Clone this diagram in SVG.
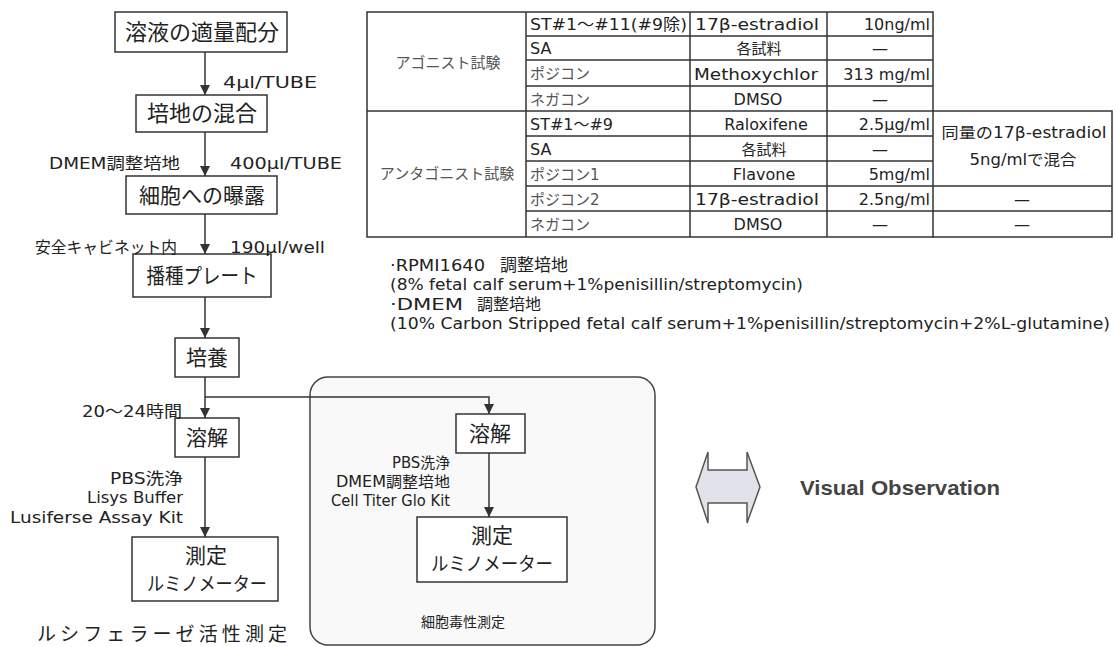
<svg xmlns="http://www.w3.org/2000/svg" width="1116" height="647" viewBox="0 0 1116 647">
<defs>
<marker id="ah" viewBox="0 0 10 10" refX="10" refY="5" markerWidth="10" markerHeight="10" markerUnits="userSpaceOnUse" orient="auto">
<path d="M0,0 L10,5 L0,10 z" fill="#333"/>
</marker>
<style>
text{font-family:"DejaVu Sans","Noto Sans CJK JP",sans-serif;fill:#222}
.box{fill:#fff;stroke:#333;stroke-width:1.5}
.bt{font-size:21px;text-anchor:middle;font-family:"Noto Sans CJK JP",sans-serif}
.lb{font-size:16px}
.ln{stroke:#333;stroke-width:1.5;fill:none}
.tb{stroke:#333;stroke-width:1.5;fill:none}
.tt{font-size:16px}
.tj{font-size:15px;fill:#555}
.c{text-anchor:middle}
.r{text-anchor:end}
</style>
</defs>
<rect width="1116" height="647" fill="#fff"/>

<g id="frame-cytotox">
<rect x="310" y="377" width="345" height="268" rx="18" ry="18" fill="#f9f9fa" stroke="#444" stroke-width="1.5"/>
</g>

<g id="connectors">
<line class="ln" x1="205" y1="52" x2="205" y2="95" marker-end="url(#ah)"/>
<line class="ln" x1="205" y1="132" x2="205" y2="176" marker-end="url(#ah)"/>
<line class="ln" x1="205" y1="214" x2="205" y2="254" marker-end="url(#ah)"/>
<line class="ln" x1="205" y1="297" x2="205" y2="338" marker-end="url(#ah)"/>
<line class="ln" x1="205" y1="377" x2="205" y2="418" marker-end="url(#ah)"/>
<line class="ln" x1="205" y1="457" x2="205" y2="537" marker-end="url(#ah)"/>
<polyline class="ln" points="205,397 489,397 489,414" marker-end="url(#ah)"/>
<line class="ln" x1="489" y1="453" x2="489" y2="517" marker-end="url(#ah)"/>
</g>

<g id="n-dispense"><rect class="box" x="115" y="12" width="172" height="40"/><text class="bt" x="202" y="40" style="font-size:22px">溶液の適量配分</text></g>
<g id="n-mix"><rect class="box" x="136" y="95" width="131" height="37"/><text class="bt" x="202" y="121" style="font-size:22px">培地の混合</text></g>
<g id="n-expose"><rect class="box" x="126" y="176" width="151" height="38"/><text class="bt" x="202" y="203">細胞への曝露</text></g>
<g id="n-plate"><rect class="box" x="133" y="254" width="138" height="43"/><text class="bt" x="202" y="283" textLength="111" lengthAdjust="spacingAndGlyphs">播種プレート</text></g>
<g id="n-culture"><rect class="box" x="175" y="338" width="64" height="39"/><text class="bt" x="207" y="365">培養</text></g>
<g id="n-lysis1"><rect class="box" x="175" y="418" width="64" height="39"/><text class="bt" x="207" y="445">溶解</text></g>
<g id="n-measure1"><rect class="box" x="132" y="537" width="146" height="64"/><text class="bt" x="206" y="563">測定</text><text class="bt" x="207" y="591" style="font-size:19px" textLength="120" lengthAdjust="spacingAndGlyphs">ルミノメーター</text></g>
<g id="n-lysis2"><rect class="box" x="456" y="414" width="69" height="39"/><text class="bt" x="490" y="441">溶解</text></g>
<g id="n-measure2"><rect class="box" x="417" y="517" width="150" height="65"/><text class="bt" x="492" y="543">測定</text><text class="bt" x="492" y="571" style="font-size:19px" textLength="122" lengthAdjust="spacingAndGlyphs">ルミノメーター</text></g>

<g id="labels">
<text class="lb" x="223" y="88" textLength="94" lengthAdjust="spacingAndGlyphs">4μl/TUBE</text>
<text class="lb" x="49" y="169" textLength="131" lengthAdjust="spacingAndGlyphs">DMEM調整培地</text>
<text class="lb" x="230" y="169" textLength="112" lengthAdjust="spacingAndGlyphs">400μl/TUBE</text>
<text class="lb" x="35" y="253" textLength="142" lengthAdjust="spacingAndGlyphs">安全キャビネット内</text>
<text class="lb" x="230" y="253" textLength="95" lengthAdjust="spacingAndGlyphs">190μl/well</text>
<text class="lb" x="82" y="417" textLength="100" lengthAdjust="spacingAndGlyphs">20～24時間</text>
<text class="lb r" x="183" y="484" textLength="73" lengthAdjust="spacingAndGlyphs">PBS洗浄</text>
<text class="lb r" x="183" y="503" textLength="96" lengthAdjust="spacingAndGlyphs">Lisys Buffer</text>
<text class="lb r" x="183" y="523" textLength="173" lengthAdjust="spacingAndGlyphs">Lusiferse Assay Kit</text>
<text class="lb" x="37" y="641" style="font-size:19px" textLength="250" lengthAdjust="spacing">ルシフェラーゼ活性測定</text>
<text class="lb r" x="450" y="468" style="font-size:15px" textLength="58" lengthAdjust="spacingAndGlyphs">PBS洗浄</text>
<text class="lb r" x="450" y="487" style="font-size:15px" textLength="114" lengthAdjust="spacingAndGlyphs">DMEM調整培地</text>
<text class="lb r" x="450" y="506" style="font-size:15px" textLength="119" lengthAdjust="spacingAndGlyphs">Cell Titer Glo Kit</text>
<text class="lb c" x="463" y="627" style="font-size:14px">細胞毒性測定</text>
</g>

<g id="table">
<rect class="tb" x="367" y="12" width="566" height="225"/>
<polyline class="tb" points="933,111 1112,111 1112,237 933,237"/>
<line class="tb" x1="526" y1="12" x2="526" y2="237"/>
<line class="tb" x1="690" y1="12" x2="690" y2="237"/>
<line class="tb" x1="827" y1="12" x2="827" y2="237"/>
<line class="tb" x1="367" y1="111" x2="933" y2="111"/>
<line class="tb" x1="526" y1="36" x2="933" y2="36"/>
<line class="tb" x1="526" y1="60" x2="933" y2="60"/>
<line class="tb" x1="526" y1="86" x2="933" y2="86"/>
<line class="tb" x1="526" y1="136" x2="933" y2="136"/>
<line class="tb" x1="526" y1="161" x2="933" y2="161"/>
<line class="tb" x1="526" y1="186" x2="1112" y2="186"/>
<line class="tb" x1="526" y1="211" x2="1112" y2="211"/>

<text class="tj c" x="448" y="68">アゴニスト試験</text>
<text class="tj c" x="447" y="179">アンタゴニスト試験</text>

<text class="tt" x="530" y="30" textLength="157" lengthAdjust="spacingAndGlyphs">ST#1～#11(#9除)</text>
<text class="tt" x="530" y="54">SA</text>
<text class="tj" x="530" y="79">ポジコン</text>
<text class="tj" x="530" y="105">ネガコン</text>
<text class="tt" x="530" y="130" textLength="83" lengthAdjust="spacingAndGlyphs">ST#1～#9</text>
<text class="tt" x="530" y="155">SA</text>
<text class="tj" x="530" y="180">ポジコン1</text>
<text class="tj" x="530" y="205">ポジコン2</text>
<text class="tj" x="530" y="230">ネガコン</text>

<text class="tt c" x="757" y="30" textLength="124" lengthAdjust="spacingAndGlyphs">17β-estradiol</text>
<text class="tt c" x="759" y="54" style="font-size:15px">各試料</text>
<text class="tt c" x="756" y="80" textLength="124" lengthAdjust="spacingAndGlyphs">Methoxychlor</text>
<text class="tt c" x="758" y="105">DMSO</text>
<text class="tt c" x="766" y="130">Raloxifene</text>
<text class="tt c" x="764" y="155" style="font-size:15px">各試料</text>
<text class="tt c" x="764" y="180">Flavone</text>
<text class="tt c" x="757" y="205" textLength="124" lengthAdjust="spacingAndGlyphs">17β-estradiol</text>
<text class="tt c" x="758" y="230">DMSO</text>

<text class="tt r" x="930" y="30">10ng/ml</text>
<text class="tt c" x="880" y="54">—</text>
<text class="tt r" x="930" y="80">313 mg/ml</text>
<text class="tt c" x="880" y="105">—</text>
<text class="tt r" x="930" y="130">2.5μg/ml</text>
<text class="tt c" x="880" y="155">—</text>
<text class="tt r" x="930" y="180">5mg/ml</text>
<text class="tt r" x="930" y="205">2.5ng/ml</text>
<text class="tt c" x="880" y="230">—</text>

<text class="tt c" x="1024" y="138" style="font-size:15px" textLength="165" lengthAdjust="spacingAndGlyphs">同量の17β-estradiol</text>
<text class="tt c" x="1023" y="165" style="font-size:15px" textLength="107" lengthAdjust="spacingAndGlyphs">5ng/mlで混合</text>
<text class="tt c" x="1022" y="205">—</text>
<text class="tt c" x="1022" y="230">—</text>
</g>

<g id="notes">
<text class="lb" x="390" y="271"><tspan textLength="95" lengthAdjust="spacingAndGlyphs">·RPMI1640</tspan><tspan x="500" style="font-size:17px">調整培地</tspan></text>
<text class="lb" x="390" y="290" style="font-size:15px" textLength="413" lengthAdjust="spacingAndGlyphs">(8% fetal calf serum+1%penisillin/streptomycin)</text>
<text class="lb" x="390" y="310"><tspan textLength="73" lengthAdjust="spacingAndGlyphs">·DMEM</tspan><tspan x="477">調整培地</tspan></text>
<text class="lb" x="390" y="329" style="font-size:15px" textLength="720" lengthAdjust="spacingAndGlyphs">(10% Carbon Stripped fetal calf serum+1%penisillin/streptomycin+2%L-glutamine)</text>
</g>

<g id="visual">
<polygon points="696,487 708,452 708,470 747,470 747,452 760,487 747,523 747,503 708,503 708,523" fill="#e2e2ea" stroke="#555" stroke-width="1.5"/>
<text x="800" y="495" font-weight="bold" textLength="200" lengthAdjust="spacingAndGlyphs" style="fill:#444;font-size:21px;font-family:'Liberation Sans',sans-serif">Visual Observation</text>
</g>
</svg>
